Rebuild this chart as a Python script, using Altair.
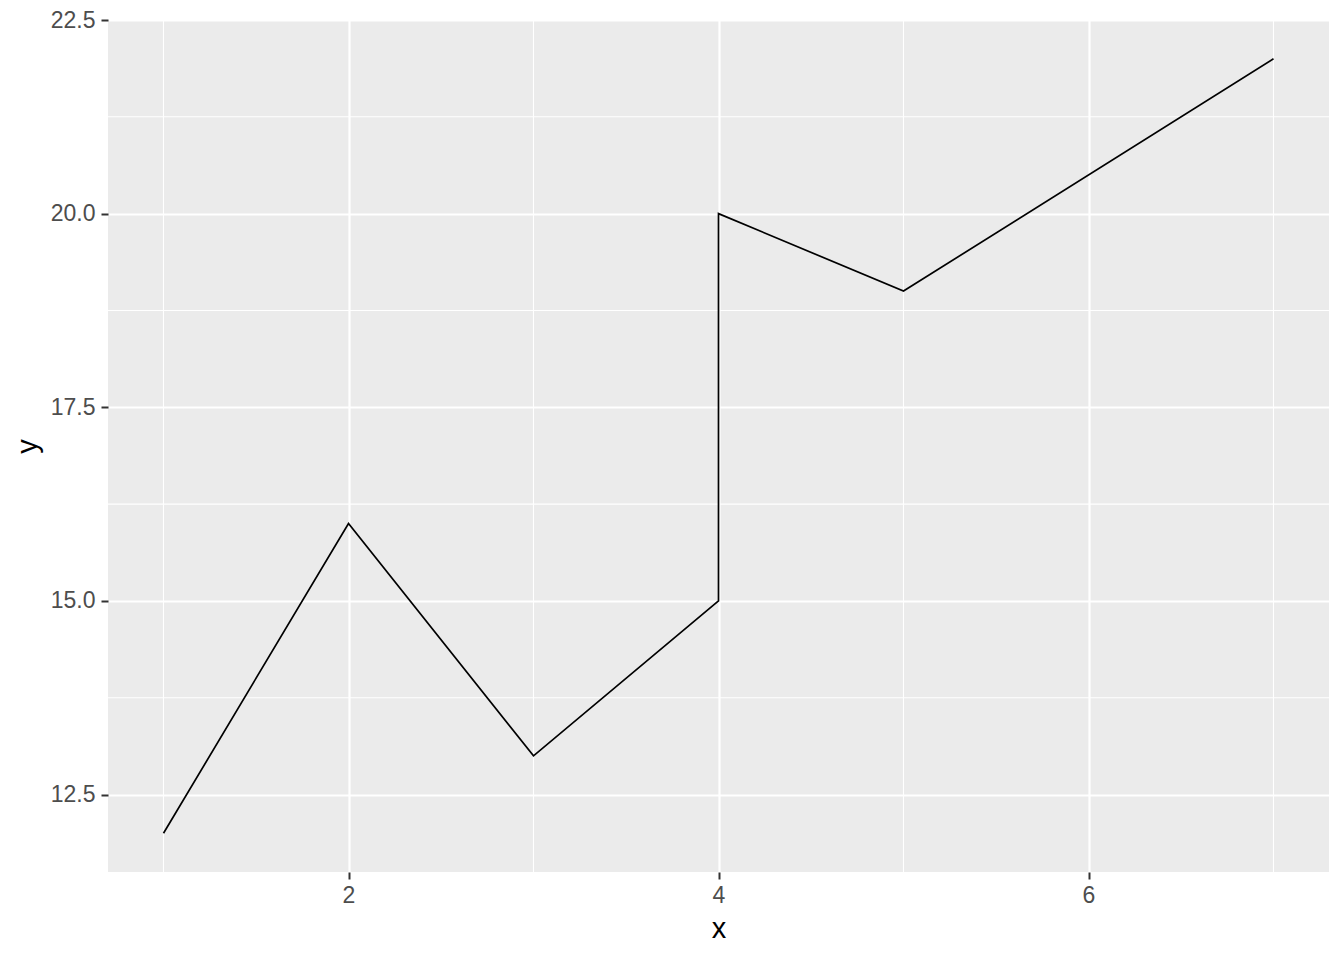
import altair as alt
import pandas as pd

# data
x_vals = [1, 2, 3, 4, 4, 5, 7]
y_vals = [12, 16, 13, 15, 20, 19, 22]
x_major = [2, 4, 6]
x_minor = [1, 3, 5, 7]
y_major = [12.5, 15.0, 17.5, 20.0, 22.5]
y_minor = [13.75, 16.25, 18.75, 21.25]

df = pd.DataFrame({"x": x_vals, "y": y_vals, "ord": list(range(len(x_vals)))})
dfx = pd.DataFrame({"x": x_minor})
dfy = pd.DataFrame({"y": y_minor})

FONT = "Liberation Sans"
xscale = alt.Scale(domain=[0.7, 7.3], nice=False, zero=False)
yscale = alt.Scale(domain=[11.5, 22.5], nice=False, zero=False)

common = dict(
    grid=True, gridColor="white", gridWidth=2.2, domain=False,
    tickColor="#333333", tickWidth=2, tickSize=7,
    labelFont=FONT, labelFontSize=23, labelColor="#4D4D4D",
    titleFont=FONT, titleFontSize=29, titleColor="black", titleFontWeight="normal",
)
xaxis = alt.Axis(values=x_major, labelPadding=5, titlePadding=7, **common)
yaxis = alt.Axis(values=y_major, format=".1f", labelPadding=6, titlePadding=8, **common)

X = lambda: alt.X("x:Q", scale=xscale, axis=xaxis, title="x")
Y = lambda: alt.Y("y:Q", scale=yscale, axis=yaxis, title="y")

minor_x = alt.Chart(dfx).mark_rule(color="white", strokeWidth=1.1).encode(x=X())
minor_y = alt.Chart(dfy).mark_rule(color="white", strokeWidth=1.1).encode(y=Y())
line = alt.Chart(df).mark_line(color="black", strokeWidth=1.7).encode(
    x=X(), y=Y(), order=alt.Order("ord:Q")
)

chart = (
    alt.layer(minor_x, minor_y, line)
    .properties(
        width=1221, height=852,
        autosize=alt.AutoSizeParams(type="none"),
        padding={"left": 100, "top": 12, "right": 6, "bottom": 72},
    )
    .configure_view(fill="#EBEBEB", strokeWidth=0)
)

chart.save("out.html", embed_options={"renderer": "svg", "actions": False})
